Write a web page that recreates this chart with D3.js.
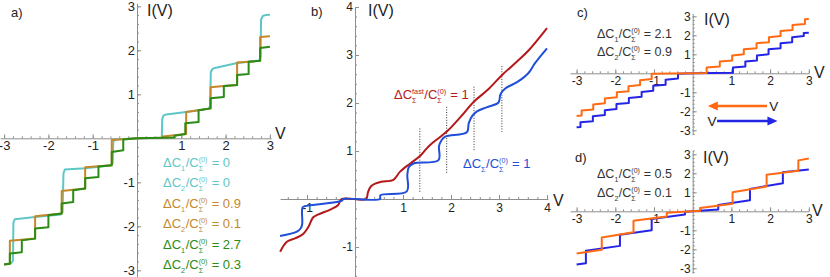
<!DOCTYPE html>
<html>
<head>
<meta charset="utf-8">
<script src="https://cdn.jsdelivr.net/npm/d3@7"></script>
<style>
body{margin:0;background:#fff;}
svg{display:block;font-family:"Liberation Sans",Arial,sans-serif;}
</style>
</head>
<body>
<svg id="fig" width="830" height="277"></svg>
<script>
// ================= data (V, I) =================
// panel a: three staircases
var aCyan = [[-3.0,-2.86],[-2.84,-2.84],[-2.80,-2.78],[-2.79,-1.92],[-2.76,-1.84],[-2.30,-1.79],[-1.72,-1.73],[-1.68,-1.68],[-1.66,-0.80],[-1.63,-0.71],[-1.17,-0.68],[-0.60,-0.62],[-0.55,-0.57],[-0.535,-0.08],[-0.50,-0.03],[0,0],[0.56,0.01],[0.57,0.44],[0.60,0.52],[0.66,0.54],[1.11,0.60],[1.39,0.64],[1.62,0.67],[1.655,0.74],[1.665,1.50],[1.70,1.57],[1.76,1.60],[2.26,1.71],[2.52,1.74],[2.76,1.77],[2.79,1.86],[2.80,2.70],[2.84,2.78],[2.90,2.80],[3.0,2.81]];
var aOrange = [[-3.0,-2.87],[-2.87,-2.85],[-2.87,-2.33],[-2.30,-2.28],[-2.30,-1.77],[-1.70,-1.71],[-1.70,-1.20],[-1.17,-1.14],[-1.17,-0.66],[-0.57,-0.61],[-0.57,-0.04],[0,0],[0.58,0.01],[0.58,0.04],[1.11,0.10],[1.11,0.60],[1.39,0.64],[1.66,0.68],[1.66,1.16],[1.96,1.19],[2.26,1.21],[2.26,1.72],[2.52,1.74],[2.78,1.76],[2.78,2.30],[3.0,2.32]];
var aGreen = [[-3.0,-2.87],[-2.87,-2.85],[-2.87,-2.62],[-2.60,-2.59],[-2.60,-2.32],[-2.30,-2.28],[-2.30,-2.05],[-2.00,-2.02],[-2.00,-1.75],[-1.70,-1.71],[-1.70,-1.48],[-1.44,-1.45],[-1.44,-1.18],[-1.17,-1.14],[-1.17,-0.91],[-0.87,-0.88],[-0.87,-0.64],[-0.57,-0.61],[-0.57,-0.31],[-0.31,-0.27],[-0.31,-0.03],[0,0],[0.85,0.02],[0.85,0.06],[1.09,0.10],[1.09,0.34],[1.39,0.37],[1.39,0.64],[1.66,0.68],[1.66,0.91],[1.96,0.94],[1.96,1.19],[2.26,1.21],[2.26,1.44],[2.52,1.46],[2.52,1.74],[2.78,1.76],[2.78,2.05],[3.0,2.08]];
var aDC1 = ["0","0.9","2.7"];
var aDC2 = ["0","0.1","0.3"];
var aTicks = [-3,-2,-1,1,2,3];

// panel b
var bRed = [[-1.56,-1.10],[-1.42,-0.89],[-1.25,-0.82],[-1.08,-0.73],[-0.97,-0.58],[-0.87,-0.38],[-0.76,-0.32],[-0.49,-0.21],[-0.35,-0.125],[-0.28,0],[0.23,0],[0.27,0.14],[0.33,0.26],[0.42,0.32],[0.55,0.36],[0.80,0.40],[0.94,0.57],[1.15,0.74],[1.36,0.90],[1.50,1.06],[1.63,1.18],[1.93,1.42],[2.20,1.71],[2.48,2.03],[2.76,2.27],[3.06,2.58],[3.37,2.86],[3.62,3.10],[4.0,3.56]];
var bBlue = [[-1.56,-0.77],[-1.21,-0.68],[-1.13,-0.61],[-1.10,-0.52],[-1.095,-0.18],[-1.05,-0.15],[-0.28,-0.04],[-0.24,0],[0.52,0],[0.53,0.08],[1.08,0.16],[1.09,0.50],[1.12,0.66],[1.22,0.74],[1.74,0.81],[1.75,1.10],[1.80,1.22],[1.88,1.30],[2.33,1.39],[2.37,1.58],[2.45,1.74],[2.55,1.83],[2.74,1.91],[2.99,2.01],[3.03,2.18],[3.13,2.30],[3.40,2.45],[3.61,2.62],[3.75,2.83],[4.0,3.14]];
var bDotV = [1.35,1.91,2.48,3.06];
var bDotTop = [1.47,1.92,2.34,2.77];
var bDotBot = [0.12,0.54,0.99,1.40];
var bTicks = [-1,1,2,3,4];

// panel c
var cOrange = [[-3.0,-2.25],[-2.87,-2.22],[-2.87,-1.96],[-2.57,-1.90],[-2.57,-1.64],[-2.27,-1.58],[-2.27,-1.32],[-1.96,-1.26],[-1.96,-1.00],[-1.66,-0.94],[-1.66,-0.68],[-1.36,-0.62],[-1.36,-0.36],[-1.06,-0.30],[-1.06,-0.03],[0,0],[0.36,0.02],[0.36,0.30],[0.70,0.36],[0.70,0.62],[1.02,0.68],[1.02,0.94],[1.32,1.00],[1.32,1.26],[1.65,1.32],[1.65,1.58],[1.97,1.64],[1.97,1.90],[2.27,1.96],[2.27,2.22],[2.58,2.28],[2.58,2.54],[2.90,2.60],[2.90,2.84],[3.0,2.86]];
var cBlue = [[-3.0,-2.84],[-2.90,-2.82],[-2.90,-2.58],[-2.58,-2.52],[-2.58,-2.26],[-2.27,-2.20],[-2.27,-1.94],[-1.97,-1.88],[-1.97,-1.62],[-1.65,-1.56],[-1.65,-1.30],[-1.32,-1.24],[-1.32,-0.98],[-1.02,-0.92],[-1.02,-0.66],[-0.70,-0.60],[-0.70,-0.34],[-0.38,-0.28],[-0.38,-0.02],[0,0],[1.04,0.03],[1.04,0.30],[1.36,0.36],[1.36,0.62],[1.66,0.68],[1.66,0.94],[1.96,1.00],[1.96,1.26],[2.27,1.32],[2.27,1.58],[2.57,1.64],[2.57,1.90],[2.87,1.96],[2.87,2.12],[3.0,2.14]];
var cDC = ["2.1","0.9"];

// panel d
var dOrange = [[-3.0,-2.22],[-2.35,-2.02],[-2.35,-1.38],[-1.53,-1.10],[-1.53,-0.50],[-0.67,-0.27],[-0.67,-0.08],[0.19,0.03],[0.19,0.17],[1.03,0.40],[1.03,1.00],[1.91,1.30],[1.91,1.92],[2.73,2.13],[2.73,2.68],[3.0,2.78]];
var dBlue = [[-3.0,-2.80],[-2.76,-2.73],[-2.76,-2.08],[-1.88,-1.82],[-1.88,-1.24],[-1.06,-1.00],[-1.06,-0.40],[-0.20,-0.17],[-0.20,-0.02],[0.66,0.10],[0.66,0.33],[1.48,0.58],[1.48,1.18],[2.33,1.48],[2.33,2.06],[3.0,2.20]];
var dDC = ["0.5","0.1"];
var cdTicks = [-3,-2,-1,1,2,3];

// ================= drawing =================
var svg = d3.select("#fig");
var axisCol = "#8e8e8e";
var textCol = "#222";
var colA = ["#5ec6c6","#c4882a","#2a8c14"];
var colB = ["#b3191b","#1f4fd8"];
var colCD = ["#ff6a13","#2424e6"];

function axes(g, x, y, o){
	var xa = d3.scaleLinear().domain(o.xr).range(o.xr.map(x));
	var ya = d3.scaleLinear().domain(o.yr).range(o.yr.map(y));
	var minorX = d3.range(Math.ceil(o.xr[0]*5), Math.floor(o.xr[1]*5)+1).map(function(k){return k/5;});
	var minorY = d3.range(Math.ceil(o.yr[0]*5), Math.floor(o.yr[1]*5)+1).map(function(k){return k/5;});
	var fmt = function(d){return String(d);};

	var gx1 = g.append("g").attr("transform","translate(0,"+y(0)+")")
		.call(d3.axisBottom(xa).tickValues(minorX).tickSize(-2).tickSizeOuter(0).tickFormat(""));
	var gx2 = g.append("g").attr("transform","translate(0,"+y(0)+")")
		.call(d3.axisBottom(xa).tickValues(o.xt).tickSize(-4).tickSizeOuter(0).tickPadding(o.pad).tickFormat(fmt));
	var gy1 = g.append("g").attr("transform","translate("+x(0)+",0)")
		.call(d3.axisLeft(ya).tickValues(minorY).tickSize(-2).tickSizeOuter(0).tickFormat(""));
	var gy2 = g.append("g").attr("transform","translate("+x(0)+",0)")
		.call(d3.axisLeft(ya).tickValues(o.yt).tickSize(-4).tickSizeOuter(0).tickPadding(2).tickFormat(fmt));
	[gx1,gx2,gy1,gy2].forEach(function(a){
		a.attr("font-family",null).attr("font-size",o.fs).style("color",axisCol);
		a.selectAll("text").attr("fill",textCol);
		a.select(".domain").attr("stroke-width",1);
	});
	gx1.select(".domain").remove();
	gy1.select(".domain").remove();
}

function curve(g, data, x, y, color, w, c){
	g.append("path").datum(data)
		.attr("fill","none").attr("stroke",color).attr("stroke-width",w)
		.attr("stroke-linejoin","round").attr("stroke-linecap","butt")
		.attr("d", d3.line().x(function(d){return x(d[0]);}).y(function(d){return y(d[1]);}).curve(c||d3.curveLinear));
}

// text with sub / stacked super+sub scripts
function rich(g, x, y, parts, size, color){
	var cx = x, s = size*0.56;
	parts.forEach(function(p){
		if(p.stack){
			var t1 = g.append("text").attr("x",cx).attr("y",y-size*0.42).attr("font-size",s).attr("fill",color).text(p.stack[0]);
			var t2 = g.append("text").attr("x",cx).attr("y",y+size*0.3).attr("font-size",s).attr("fill",color).text(p.stack[1]);
			cx += Math.max(t1.node().getComputedTextLength(), t2.node().getComputedTextLength()) + 0.5;
		}else if(p.sub){
			var t3 = g.append("text").attr("x",cx).attr("y",y+size*0.3).attr("font-size",s).attr("fill",color).text(p.sub);
			cx += t3.node().getComputedTextLength() + 0.5;
		}else{
			var t4 = g.append("text").attr("x",cx).attr("y",y).attr("font-size",size).attr("fill",color)
				.style("white-space","pre").text(p.t);
			cx += t4.node().getComputedTextLength();
		}
	});
}

function label(g, x, y, txt, size){
	g.append("text").attr("x",x).attr("y",y).attr("font-size",size).attr("fill",textCol).text(txt);
}

// ---------- panel a ----------
var ga = svg.append("g");
var aX = d3.scaleLinear().domain([0,3]).range([137,269.9]);
var aY = d3.scaleLinear().domain([0,3]).range([138.3,6.3]);
axes(ga, aX, aY, {xr:[-3.09,3.03], yr:[-3.15,3.07], xt:aTicks, yt:aTicks, fs:13, pad:2});
[aCyan,aOrange,aGreen].forEach(function(s,i){ curve(ga, s, aX, aY, colA[i], 2); });
label(ga, 11, 16.5, "a)", 13);
label(ga, 147, 16, "I(V)", 16);
label(ga, 275, 139, "V", 16);
aDC1.forEach(function(v,i){
	rich(ga, 163, 167+i*41, [{t:"\u0394C"},{sub:"1"},{t:"/C"},{stack:["(0)","\u03a3"]},{t:" = "+v}], 13, colA[i]);
	rich(ga, 163, 187+i*41, [{t:"\u0394C"},{sub:"2"},{t:"/C"},{stack:["(0)","\u03a3"]},{t:" = "+aDC2[i]}], 13, colA[i]);
});

// ---------- panel b ----------
var gb = svg.append("g");
var bX = d3.scaleLinear().domain([0,4]).range([355,547]);
var bY = d3.scaleLinear().domain([0,4]).range([199,7]);
axes(gb, bX, bY, {xr:[-1.56,4.02], yr:[-1.62,4.0], xt:bTicks, yt:bTicks, fs:12, pad:4});
bDotV.forEach(function(v,i){
	gb.append("line").attr("x1",bX(v)).attr("x2",bX(v)).attr("y1",bY(bDotTop[i])).attr("y2",bY(bDotBot[i]))
		.attr("stroke","#333").attr("stroke-width",1).attr("stroke-dasharray","1,1.6");
});
curve(gb, bRed, bX, bY, colB[0], 2, d3.curveCatmullRom.alpha(0.5));
curve(gb, bBlue, bX, bY, colB[1], 2, d3.curveCatmullRom.alpha(0.5));
label(gb, 311, 16, "b)", 13);
label(gb, 368, 16, "I(V)", 16);
label(gb, 553, 206, "V", 16);
rich(gb, 394, 99, [{t:"\u0394C"},{stack:["fast","\u03a3"]},{t:"/C"},{stack:["(0)","\u03a3"]},{t:" = 1"}], 13, colB[0]);
rich(gb, 463, 168, [{t:"\u0394C"},{sub:"\u03a3"},{t:"/C"},{stack:["(0)","\u03a3"]},{t:" = 1"}], 13, colB[1]);

// ---------- panel c ----------
var gc = svg.append("g");
var cX = d3.scaleLinear().domain([0,3]).range([692.7,808.8]);
var cY = d3.scaleLinear().domain([0,3]).range([73.3,16.3]);
axes(gc, cX, cY, {xr:[-3.17,3.0], yr:[-3.22,3.15], xt:cdTicks, yt:cdTicks, fs:12, pad:3});
curve(gc, cBlue, cX, cY, colCD[1], 2);
curve(gc, cOrange, cX, cY, colCD[0], 2);
label(gc, 577, 16.5, "c)", 13);
label(gc, 704, 25, "I(V)", 16);
label(gc, 814, 78, "V", 16);
rich(gc, 597, 38, [{t:"\u0394C"},{sub:"1"},{t:"/C"},{stack:["(0)","\u03a3"]},{t:" = "+cDC[0]}], 12.5, "#333");
rich(gc, 597, 56, [{t:"\u0394C"},{sub:"2"},{t:"/C"},{stack:["(0)","\u03a3"]},{t:" = "+cDC[1]}], 12.5, "#333");
// sweep direction arrows
function arrow(g, v0, v1, i, color){
	var x0 = cX(v0), x1 = cX(v1), yy = cY(i), dir = x1 > x0 ? 1 : -1;
	g.append("line").attr("x1",x0).attr("x2",x1-dir*9).attr("y1",yy).attr("y2",yy)
		.attr("stroke",color).attr("stroke-width",2.5);
	g.append("path").attr("fill",color)
		.attr("d","M"+x1+","+yy+"L"+(x1-dir*10)+","+(yy-4.5)+"L"+(x1-dir*10)+","+(yy+4.5)+"Z");
}
arrow(gc, 1.92, 0.39, -1.72, colCD[0]);
label(gc, cX(1.98), cY(-1.72)+5, "V", 13.5);
arrow(gc, 0.63, 2.19, -2.51, colCD[1]);
label(gc, cX(0.38), cY(-2.51)+5, "V", 13.5);

// ---------- panel d ----------
var gd = svg.append("g");
var dX = cX.copy();
var dY = d3.scaleLinear().domain([0,3]).range([211.3,154.3]);
axes(gd, dX, dY, {xr:[-3.17,3.0], yr:[-3.25,3.2], xt:cdTicks, yt:cdTicks, fs:12, pad:3});
curve(gd, dBlue, dX, dY, colCD[1], 2);
curve(gd, dOrange, dX, dY, colCD[0], 2);
label(gd, 575, 162, "d)", 13);
label(gd, 703, 163, "I(V)", 16);
label(gd, 812, 216, "V", 16);
rich(gd, 597, 178, [{t:"\u0394C"},{sub:"1"},{t:"/C"},{stack:["(0)","\u03a3"]},{t:" = "+dDC[0]}], 12.5, "#333");
rich(gd, 597, 197, [{t:"\u0394C"},{sub:"2"},{t:"/C"},{stack:["(0)","\u03a3"]},{t:" = "+dDC[1]}], 12.5, "#333");
</script>
</body>
</html>
